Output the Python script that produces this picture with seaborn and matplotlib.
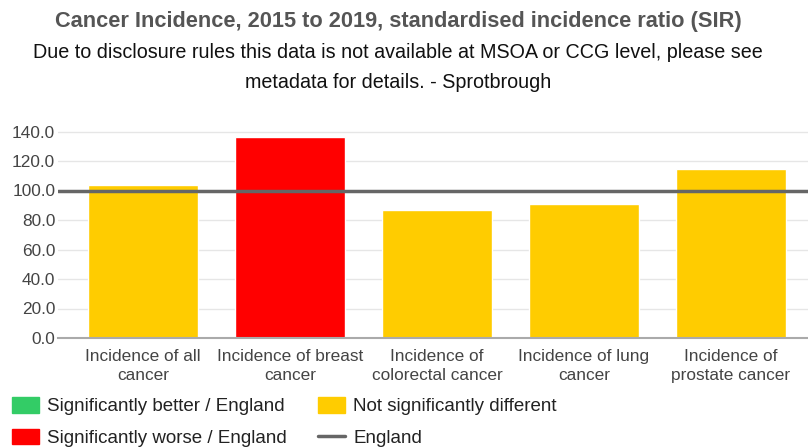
import matplotlib
matplotlib.use("Agg")
import matplotlib.pyplot as plt
from matplotlib.patches import Patch
from matplotlib.lines import Line2D
import seaborn as sns
import pandas as pd

categories = [
    "Incidence of all\ncancer",
    "Incidence of breast\ncancer",
    "Incidence of\ncolorectal cancer",
    "Incidence of lung\ncancer",
    "Incidence of\nprostate cancer",
]
sir_values = [103.5, 136.0, 86.6, 90.6, 114.3]
significance = [
    "Not significantly different",
    "Significantly worse / England",
    "Not significantly different",
    "Not significantly different",
    "Not significantly different",
]
england_value = 100.0
y_ticks = [0, 20, 40, 60, 80, 100, 120, 140]

colours = {
    "Significantly better / England": "#33cc66",
    "Significantly worse / England": "#ff0000",
    "Not significantly different": "#ffcc00",
}

df = pd.DataFrame({"area": categories, "sir": sir_values, "sig": significance})

sns.set_style("white")
plt.rcParams["font.family"] = ["Liberation Sans", "DejaVu Sans"]

fig = plt.figure(figsize=(8.08, 4.47), dpi=100)
ax = fig.add_axes([58 / 808, 1 - 338 / 447, 750 / 808, (338 - 110) / 447])

sns.barplot(data=df, x="area", y="sir", hue="sig", palette=colours,
            dodge=False, width=0.75, legend=False, ax=ax, saturation=1)

ax.set_xlim(-0.578, 4.524)
ax.set_ylim(0, 140 * (338 - 110) / (338 - 131.5))
ax.set_yticks(y_ticks)
ax.set_yticklabels([f"{v:.1f}" for v in y_ticks])
ax.yaxis.grid(True, color="#e6e6e6", linewidth=1)
ax.set_axisbelow(True)
for s in ["top", "right", "left"]:
    ax.spines[s].set_visible(False)
ax.spines["bottom"].set_color("#aaaaaa")
ax.spines["bottom"].set_linewidth(1.5)
ax.set_xlabel("")
ax.set_ylabel("")
ax.tick_params(axis="y", length=0, labelsize=12.4, labelcolor="#444444", pad=2)
ax.tick_params(axis="x", length=5, color="#cccccc", labelsize=12.4,
               labelcolor="#444444", pad=3)
for lbl in ax.get_xticklabels():
    lbl.set_linespacing(1.35)

ax.axhline(england_value, color="#666666", linewidth=2.5, zorder=5)

cx = 398 / 808
fig.text(cx, 1 - 21 / 447, "Cancer Incidence, 2015 to 2019, standardised incidence ratio (SIR)",
         ha="center", va="center", fontsize=15.7, fontweight="bold", color="#555555")
fig.text(cx, 1 - 52 / 447, "Due to disclosure rules this data is not available at MSOA or CCG level, please see",
         ha="center", va="center", fontsize=14.2, color="#111111")
fig.text(cx, 1 - 82 / 447, "metadata for details. - Sprotbrough",
         ha="center", va="center", fontsize=14.2, color="#111111")

handles = [
    Patch(color=colours["Significantly better / England"], label="Significantly better / England"),
    Patch(color=colours["Significantly worse / England"], label="Significantly worse / England"),
    Patch(color=colours["Not significantly different"], label="Not significantly different"),
    Line2D([0], [0], color="#666666", linewidth=2.5, label="England"),
]
fig.legend(handles=handles, ncol=2, loc="upper left",
           bbox_to_anchor=(12 / 808, 1 - 397 / 447), borderpad=0, borderaxespad=0,
           frameon=False, fontsize=13.5, handlelength=1.45, handleheight=0.9,
           columnspacing=1.65, labelspacing=0.72, handletextpad=0.43,
           labelcolor="#222222")

fig.savefig("out.png", dpi=100)
